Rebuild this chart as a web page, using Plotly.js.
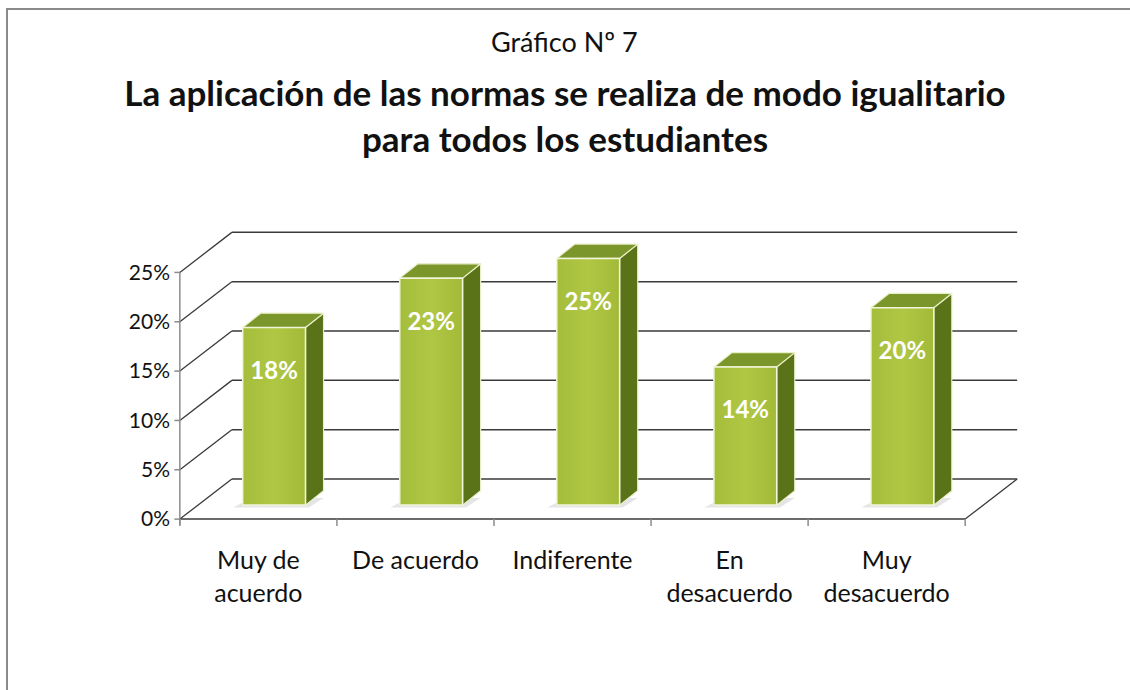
<!DOCTYPE html>
<html>
<head>
<meta charset="utf-8">
<script src="https://cdn.plot.ly/plotly-3.0.1.min.js"></script>
<style>
  html, body { margin: 0; padding: 0; background: #ffffff; }
  #wrap { position: relative; width: 1130px; height: 690px; }
  #chart { width: 1130px; height: 690px; }
  #frame { position: absolute; left: 6px; top: 8px; width: 1140px; height: 700px;
           border-left: 2px solid #8a8a8a; border-top: 2px solid #8a8a8a; pointer-events: none; }
</style>
</head>
<body>
<div id="wrap"><div id="chart"></div><div id="frame"></div></div>
<script>
// ---- data ----
const categories = ['Muy de<br>acuerdo', 'De acuerdo', 'Indiferente', 'En<br>desacuerdo', 'Muy<br>desacuerdo'];
const values = [18, 23, 25, 14, 20];
const valueLabels = ['18%', '23%', '25%', '14%', '20%'];
const yTicks = [0, 5, 10, 15, 20, 25];
const yTickText = ['0%', '5%', '10%', '15%', '20%', '25%'];

// ---- pseudo-3D geometry (axis units) ----
const depthX = 0.331, depthY = 4.06;   // back wall offset
const barOffX = 0.10, barOffY = 1.42;  // bar front face offset from front plane
const barDepX = 0.115, barDepY = 1.45; // bar depth
const barHalf = 0.2;
const nCat = categories.length;
const yMax = yTicks[yTicks.length - 1];
const FONT = 'Lato, "Open Sans", sans-serif';

const traces = [];
const gridColor = '#3a3a3a';
function line(xs, ys, color, width) {
  traces.push({type: 'scatter', mode: 'lines', x: xs, y: ys, hoverinfo: 'skip',
               line: {color: color, width: width}, showlegend: false});
}
// back wall gridlines + left wall diagonals
yTicks.forEach(v => {
  line([depthX, nCat + depthX], [v + depthY, v + depthY], gridColor, 1.5);
  line([0, depthX], [v, v + depthY], gridColor, 1.3);
});
// floor edges
line([0, nCat], [0, 0], gridColor, 1.5);
line([nCat, nCat + depthX], [0, depthY], gridColor, 1.3);
// front vertical axis and ticks
line([0, 0], [-0.6, yMax], '#8c8c8c', 1.5);
yTicks.forEach(v => line([-0.035, 0], [v, v], '#8c8c8c', 1.5));
for (let i = 0; i <= nCat; i++) line([i, i], [0, -0.7], '#8c8c8c', 1.5);

// bars
values.forEach((v, i) => {
  const xl = i + 0.5 + barOffX - barHalf, xr = i + 0.5 + barOffX + barHalf;
  const b = barOffY, t = barOffY + v;
  // shadow
  traces.push({type: 'scatter', mode: 'lines', fill: 'toself', hoverinfo: 'skip', showlegend: false,
    x: [xl - 0.06, xr + 0.02, xr + barDepX, xl + barDepX - 0.06, xl - 0.06],
    y: [b - 0.25, b - 0.25, b + barDepY * 0.5, b + barDepY * 0.5, b - 0.25],
    line: {width: 0}, fillcolor: 'rgba(150,150,150,0.25)'});
  // side face
  traces.push({type: 'scatter', mode: 'lines', fill: 'toself', hoverinfo: 'skip', showlegend: false,
    x: [xr, xr + barDepX, xr + barDepX, xr, xr],
    y: [b, b + barDepY, t + barDepY, t, b],
    line: {color: '#e9efc8', width: 1.2}, fillcolor: '#5a7318'});
  // top face
  traces.push({type: 'scatter', mode: 'lines', fill: 'toself', hoverinfo: 'skip', showlegend: false,
    x: [xl, xl + barDepX, xr + barDepX, xr, xl],
    y: [t, t + barDepY, t + barDepY, t, t],
    line: {color: '#e9efc8', width: 1.2}, fillcolor: '#7b972b'});
  // front face
  traces.push({type: 'scatter', mode: 'lines', fill: 'toself', hoverinfo: 'skip', showlegend: false,
    x: [xl, xr, xr, xl, xl],
    y: [b, b, t, t, b],
    line: {color: '#f2f5dc', width: 1.5},
    fillcolor: '#a9c13e',
    fillgradient: {type: 'horizontal', colorscale: [[0, '#a4bd3a'], [0.5, '#b0c744'], [1, '#a2ba38']]}});
});

// data labels
traces.push({type: 'scatter', mode: 'text', hoverinfo: 'skip', showlegend: false,
  x: values.map((v, i) => i + 0.5 + barOffX),
  y: values.map(v => barOffY + v - 4.6),
  text: valueLabels, cliponaxis: false,
  textfont: {family: FONT, size: 24, color: '#ffffff', weight: 'bold'}});

const layout = {
  width: 1130, height: 690,
  paper_bgcolor: '#ffffff', plot_bgcolor: 'rgba(0,0,0,0)',
  margin: {l: 172.15, r: 102.15, t: 230.1, b: 163.1},
  showlegend: false,
  font: {family: FONT, color: '#111111'},
  title: {
    text: '<b>La aplicación de las normas se realiza de modo igualitario<br>para todos los estudiantes</b>',
    x: 0.5, xref: 'container', xanchor: 'center',
    y: 1 - 106 / 690, yref: 'container', yanchor: 'middle',
    font: {family: FONT, size: 35, color: '#111111'}
  },
  annotations: [{
    text: 'Gráfico Nº 7', showarrow: false,
    xref: 'paper', yref: 'paper', x: (565 - 172.15) / 855.7, y: (526.9 - 42) / 296.8,
    xanchor: 'center', yanchor: 'middle',
    font: {family: FONT, size: 27, color: '#111111'}
  }],
  xaxis: {
    range: [-0.05, 5.4], showgrid: false, zeroline: false, showline: false,
    tickmode: 'array', tickvals: categories.map((c, i) => i + 0.5), ticktext: categories,
    ticks: '', ticklabelstandoff: 16,
    tickfont: {family: FONT, size: 25, color: '#111111'},
    fixedrange: true
  },
  yaxis: {
    range: [-0.8, 29.3], showgrid: false, zeroline: false, showline: false,
    tickmode: 'array', tickvals: yTicks, ticktext: yTickText,
    ticks: '', ticklabelstandoff: 1,
    tickfont: {family: FONT, size: 21, color: '#111111'},
    fixedrange: true
  }
};

Plotly.newPlot('chart', traces, layout, {displayModeBar: false, staticPlot: true});
</script>
</body>
</html>
